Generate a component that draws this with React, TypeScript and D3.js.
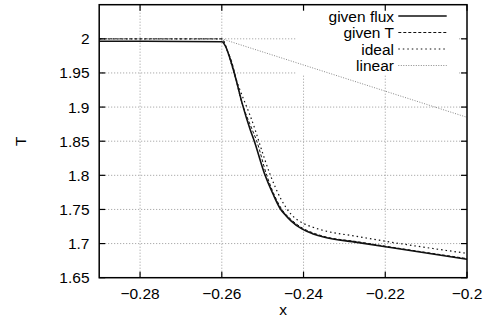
import React from "react";
import * as d3 from "d3";

// x positions and T values
const fluxX = [-0.29, -0.26, -0.259, -0.258, -0.2565, -0.255, -0.253, -0.2521, -0.2494, -0.2475, -0.2457, -0.2443, -0.243, -0.2404, -0.2378, -0.2351, -0.2269, -0.2187, -0.2];
const fluxT = [1.9965, 1.9958, 1.988, 1.971, 1.94, 1.905, 1.866, 1.851, 1.8, 1.773, 1.751, 1.741, 1.733, 1.7215, 1.7145, 1.7095, 1.7018, 1.6942, 1.677];

const givenTX = [-0.29, -0.26, -0.2588, -0.2575, -0.2555, -0.2525, -0.2515, -0.249, -0.2455, -0.2428, -0.2402, -0.2376, -0.235, -0.2269, -0.2187, -0.2];
const givenTT = [2.0, 2.0, 1.985, 1.965, 1.915, 1.866, 1.851, 1.8, 1.752, 1.734, 1.7225, 1.7155, 1.7105, 1.7028, 1.695, 1.678];

const idealX = [-0.29, -0.26, -0.2585, -0.257, -0.2518, -0.251, -0.2481, -0.2455, -0.2432, -0.24, -0.2375, -0.2351, -0.2269, -0.2187, -0.2];
const idealT = [2.0, 2.0, 1.98, 1.95, 1.866, 1.851, 1.8, 1.765, 1.744, 1.7295, 1.7235, 1.7192, 1.7105, 1.7022, 1.6857];

const linearX = [-0.29, -0.26, -0.2];
const linearT = [2.0, 2.0, 1.885];

const xTicks = [-0.28, -0.26, -0.24, -0.22, -0.2];
const yTicks = [1.65, 1.7, 1.75, 1.8, 1.85, 1.9, 1.95, 2.0];

const seriesNames = ["given flux", "given T", "ideal", "linear"];

const width = 488;
const height = 328;
const margin = { top: 4.7, right: 21, bottom: 50.3, left: 99.2 };
const font = "'Liberation Sans', Arial, sans-serif";

const styles = [
  { stroke: "#111", width: 1.6, dash: "none" },
  { stroke: "#111", width: 1, dash: "3,2" },
  { stroke: "#111", width: 1.2, dash: "1.5,3" },
  { stroke: "#888", width: 1, dash: "1,1.5" },
];

const App = () => {
  const x = d3.scaleLinear().domain([-0.29, -0.2]).range([margin.left, width - margin.right]);
  const y = d3.scaleLinear().domain([1.65, 2.05]).range([height - margin.bottom, margin.top]);

  const smooth = d3
    .line<[number, number]>()
    .curve(d3.curveMonotoneX)
    .x((d) => x(d[0]))
    .y((d) => y(d[1]));
  const straight = d3
    .line<[number, number]>()
    .x((d) => x(d[0]))
    .y((d) => y(d[1]));

  const series = [
    d3.zip(fluxX, fluxT),
    d3.zip(givenTX, givenTT),
    d3.zip(idealX, idealT),
    d3.zip(linearX, linearT),
  ] as [number, number][][];

  const x0 = x.range()[0];
  const x1 = x.range()[1];
  const y0 = y.range()[0];
  const y1 = y.range()[1];
  const fmt = (v: number) => d3.format("")(+v.toFixed(2));

  // legend
  const legendRowY = (i: number) => 16 + i * 16.5;

  return (
    <svg width={width} height={height} style={{ position: "absolute", left: 0, top: 0, background: "#fff" }}>
      {/* grid */}
      <g stroke="#999" strokeWidth={1} strokeDasharray="1,2" fill="none">
        {yTicks.slice(1).map((t) => (
          <line key={"gy" + t} x1={x0} x2={x1} y1={y(t)} y2={y(t)} />
        ))}
        {xTicks.slice(0, -1).map((t) => (
          <line key={"gx" + t} x1={x(t)} x2={x(t)} y1={y0} y2={y1} />
        ))}
      </g>
      {/* key background */}
      <rect x={297} y={y1 + 0.8} width={161} height={69} fill="#fff" />

      {/* curves */}
      {series.map((s, i) => (
        <path
          key={i}
          d={(i === 3 ? straight(s) : smooth(s)) || ""}
          fill="none"
          stroke={styles[i].stroke}
          strokeWidth={styles[i].width}
          strokeDasharray={styles[i].dash}
        />
      ))}

      {/* border and ticks */}
      <rect x={x0} y={y1} width={x1 - x0} height={y0 - y1} fill="none" stroke="#000" strokeWidth={1.5} />
      <g stroke="#000" strokeWidth={1.2}>
        {xTicks.map((t) => (
          <g key={"tx" + t}>
            <line x1={x(t)} x2={x(t)} y1={y0} y2={y0 - 6} />
            <line x1={x(t)} x2={x(t)} y1={y1} y2={y1 + 6} />
          </g>
        ))}
        {yTicks.map((t) => (
          <g key={"ty" + t}>
            <line x1={x0} x2={x0 + 6} y1={y(t)} y2={y(t)} />
            <line x1={x1} x2={x1 - 6} y1={y(t)} y2={y(t)} />
          </g>
        ))}
      </g>

      {/* tick labels */}
      <g fontFamily={font} fontSize={15.5} fill="#000">
        {xTicks.map((t) => (
          <text key={"lx" + t} x={x(t)} y={299} textAnchor="middle">
            {fmt(t)}
          </text>
        ))}
        {yTicks.map((t) => (
          <text key={"ly" + t} x={89.5} y={y(t) + 5.5} textAnchor="end">
            {fmt(t)}
          </text>
        ))}
        <text x={(x0 + x1) / 2} y={315} textAnchor="middle">
          x
        </text>
        <text transform={`translate(26,${(y0 + y1) / 2}) rotate(-90)`} textAnchor="middle">
          T
        </text>
      </g>

      {/* legend */}
      <g fontFamily={font} fontSize={15.5} fill="#000">
        {seriesNames.map((name, i) => (
          <g key={name}>
            <text x={394} y={legendRowY(i) + 5.5} textAnchor="end">
              {name}
            </text>
            <line
              x1={398.3}
              x2={446.7}
              y1={legendRowY(i)}
              y2={legendRowY(i)}
              stroke={styles[i].stroke}
              strokeWidth={styles[i].width}
              strokeDasharray={styles[i].dash}
            />
          </g>
        ))}
      </g>
    </svg>
  );
};

export default App;
